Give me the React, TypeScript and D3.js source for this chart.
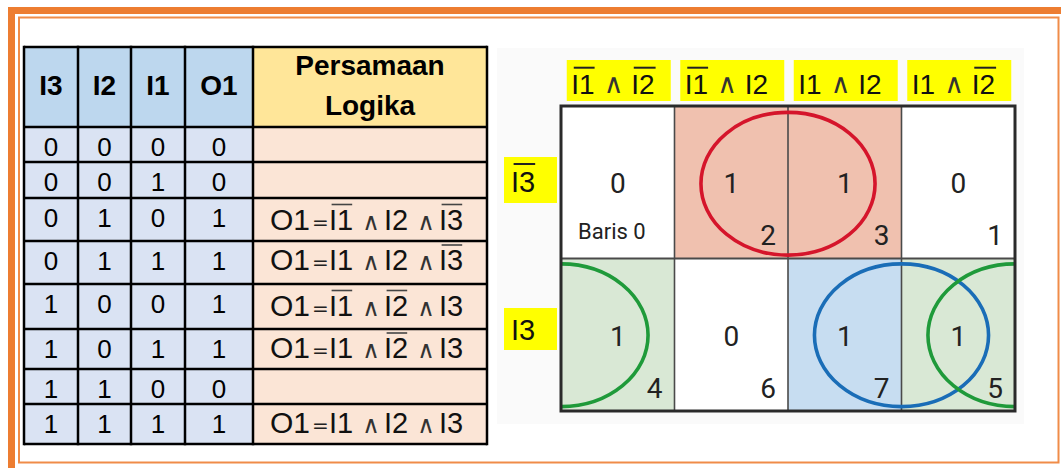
import React from 'react';
import * as d3 from 'd3';

// ---------- data ----------
const I3 = [0, 0, 0, 0, 1, 1, 1, 1];
const I2 = [0, 0, 1, 1, 0, 0, 1, 1];
const I1 = [0, 1, 0, 1, 0, 1, 0, 1];
const O1 = [0, 0, 1, 1, 1, 1, 0, 1];
const tableHeaders = ['I3', 'I2', 'I1', 'O1'];
const eqHeader = ['Persamaan', 'Logika'];
const outName = 'O1';
// K-map columns as [I1, I2] values, rows as I3 values
const kmapCols: [number, number][] = [[0, 0], [0, 1], [1, 1], [1, 0]];
const kmapRows = [0, 1];
const rowNote = 'Baris 0';
// groups (row, columns spanned)
const groups = [
  { row: 0, cols: [1, 2], stroke: '#D5152B', fill: '#F0C1AF' },
  { row: 1, cols: [2, 3], stroke: '#1A6DB7', fill: '#C7DDF1' },
  { row: 1, cols: [3, 0], stroke: '#1F9A3A', fill: '#D9E8D5' },
];

// ---------- layout ----------
const W = 1061, H = 468;
const ORANGE = '#ED7D31';
const TF = "'Liberation Sans', Arial, sans-serif";
const KF = "Roboto, 'Liberation Sans', sans-serif";
const SYM = "'DejaVu Sans', sans-serif";
const colEdges = [24, 78, 131, 185, 253, 487];
const rowEdges = [47, 127, 162, 198, 241, 284, 329, 369, 404, 444];
const CW: Record<string, number> = { I: 0.278, '1': 0.556, '2': 0.556, '3': 0.556, O: 0.778 };
const adv = (s: string, fs: number) => s.split('').reduce((a, c) => a + (CW[c] || 0.556), 0) * fs;

const xK = d3.scaleBand<number>().domain([0, 1, 2, 3]).range([561, 1015]);
const yK = d3.scaleBand<number>().domain([0, 1]).range([106, 411]);

function VarText({ x, y, name, neg, fs, olY, olW, color = '#111', olColor = '#444', olStroke = 1.6 }: any) {
  const w = adv(name, fs);
  return (
    <g>
      <text x={x} y={y} fontFamily={TF} fontSize={fs} fill={color}>{name}</text>
      {neg ? (
        <line x1={x + fs * 0.09} x2={x + w + (olW || 0)} y1={olY} y2={olY} stroke={olColor} strokeWidth={olStroke} />
      ) : null}
    </g>
  );
}

export default function App() {
  React.useEffect(() => {
    document.body.style.margin = '0';
  }, []);

  const colCenters = colEdges.slice(0, -1).map((e, i) => (e + colEdges[i + 1]) / 2);
  const dataCols = [I3, I2, I1, O1];

  const fillMap: Record<string, string> = {};
  groups.forEach((g) => g.cols.forEach((c) => (fillMap[`${g.row}-${c}`] = g.fill)));

  const bw = xK.bandwidth(), bh = yK.bandwidth();
  const rx = bw * 0.767, ry = bh * 0.468;
  const gx0 = xK.range()[0], gx1 = xK.range()[1];
  const gy0 = yK.range()[0], gy1 = yK.range()[1];

  const ellipses: any[] = [];
  groups.forEach((g, gi) => {
    const cy = (yK(g.row) as number) + bh / 2 + (g.row === 0 ? 1.5 : 0.5);
    const [a, b] = g.cols;
    if (b === a + 1) {
      ellipses.push({ key: gi, cx: (xK(b) as number), cy, stroke: g.stroke });
    } else {
      ellipses.push({ key: gi + 'a', cx: gx0, cy, stroke: g.stroke });
      ellipses.push({ key: gi + 'b', cx: gx1, cy, stroke: g.stroke });
    }
  });

  return (
    <svg width={W} height={H} style={{ position: 'absolute', left: 0, top: 0 }}>
      <rect x={0} y={0} width={W} height={H} fill="#fff" />
      {/* frame */}
      <rect x={8} y={7} width={W - 8} height={7} fill={ORANGE} />
      <rect x={8} y={7} width={7} height={H - 7} fill={ORANGE} />
      <rect x={19} y={17.5} width={1039.5} height={445} fill="none" stroke="#F08C48" strokeWidth={2} />

      {/* ---------- truth table ---------- */}
      {tableHeaders.map((h, i) => (
        <rect key={'hb' + i} x={colEdges[i]} y={rowEdges[0]} width={colEdges[i + 1] - colEdges[i]} height={rowEdges[1] - rowEdges[0]} fill="#BDD7EE" />
      ))}
      <rect x={colEdges[4]} y={rowEdges[0]} width={colEdges[5] - colEdges[4]} height={rowEdges[1] - rowEdges[0]} fill="#FFE699" />
      {O1.map((_, r) => (
        <g key={'rb' + r}>
          <rect x={colEdges[0]} y={rowEdges[r + 1]} width={colEdges[4] - colEdges[0]} height={rowEdges[r + 2] - rowEdges[r + 1]} fill="#DAE3F3" />
          <rect x={colEdges[4]} y={rowEdges[r + 1]} width={colEdges[5] - colEdges[4]} height={rowEdges[r + 2] - rowEdges[r + 1]} fill="#FBE5D6" />
        </g>
      ))}
      {tableHeaders.map((h, i) => (
        <text key={'ht' + i} x={colCenters[i]} y={95} textAnchor="middle" fontFamily={TF} fontWeight="bold" fontSize={28} fill="#000">{h}</text>
      ))}
      <text x={colCenters[4]} y={75} textAnchor="middle" fontFamily={TF} fontWeight="bold" fontSize={28} fill="#000">{eqHeader[0]}</text>
      <text x={colCenters[4]} y={115} textAnchor="middle" fontFamily={TF} fontWeight="bold" fontSize={28} fill="#000">{eqHeader[1]}</text>

      {O1.map((_, r) => {
        const top = rowEdges[r + 1];
        const base = top + 28.5;
        return (
          <g key={'rt' + r}>
            {dataCols.map((col, c) => (
              <text key={c} x={colCenters[c]} y={base} textAnchor="middle" fontFamily={TF} fontSize={26} fill="#000">{col[r]}</text>
            ))}
          </g>
        );
      })}

      {O1.map((v, r) => {
        if (!v) return null;
        const top = rowEdges[r + 1];
        const vars = [
          { name: 'I1', neg: I1[r] === 0 },
          { name: 'I2', neg: I2[r] === 0 },
          { name: 'I3', neg: I3[r] === 0 },
        ];
        const fs = 29;
        const base = top + 29 + (vars[0].neg ? 2.5 : 0);
        const x0 = colEdges[4];
        const varX = [76, 131, 186];
        const andX = [118, 173];
        return (
          <g key={'eq' + r}>
            <text x={x0 + 17} y={base} fontFamily={TF} fontSize={fs} fill="#111" textLength={40} lengthAdjust="spacingAndGlyphs">{outName}</text>
            <text x={x0 + 67.5} y={base - 1} textAnchor="middle" fontFamily={SYM} fontSize={20} fill="#222">=</text>
            {vars.map((vv, i) => (
              <VarText key={i} x={x0 + varX[i]} y={base} name={vv.name} neg={vv.neg} fs={fs} olY={base - 25} olW={-1} />
            ))}
            {andX.map((ax, i) => (
              <text key={'a' + i} x={x0 + ax} y={base} textAnchor="middle" fontFamily={SYM} fontSize={24} fill="#333">∧</text>
            ))}
          </g>
        );
      })}

      {colEdges.map((x, i) => (
        <line key={'vl' + i} x1={x} x2={x} y1={rowEdges[0] - 1.25} y2={rowEdges[rowEdges.length - 1] + 1.25} stroke="#000" strokeWidth={2.5} />
      ))}
      {rowEdges.map((y, i) => (
        <line key={'hl' + i} x1={colEdges[0]} x2={colEdges[5]} y1={y} y2={y} stroke="#000" strokeWidth={2.5} />
      ))}

      {/* ---------- K-map ---------- */}
      <rect x={497} y={48} width={527} height={376} fill="#FAFAFA" />
      <defs>
        <clipPath id="kclip">
          <rect x={gx0} y={gy0} width={gx1 - gx0} height={gy1 - gy0} />
        </clipPath>
      </defs>

      {kmapCols.map(([a, b], c) => {
        const bx = (xK(c) as number) + bw / 2 - 51;
        const fs = 28;
        return (
          <g key={'kl' + c}>
            <rect x={bx} y={60} width={104} height={41} fill="#FFFF00" />
            <VarText x={bx + 4.5} y={94} name="I1" neg={a === 0} fs={fs} olY={67.7} olW={0} olColor="#222" olStroke={2} color="#111" />
            <text x={bx + 47} y={93} textAnchor="middle" fontFamily={SYM} fontSize={27} fill="#333">∧</text>
            <VarText x={bx + 64.5} y={94} name="I2" neg={b === 0} fs={fs} olY={67.7} olW={1} olColor="#222" olStroke={2} color="#111" />
          </g>
        );
      })}

      {kmapRows.map((v, r) => {
        const boxY = r === 0 ? 157 : 308;
        const boxH = r === 0 ? 46 : 42;
        const base = r === 0 ? 192 : 340;
        return (
          <g key={'rl' + r}>
            <rect x={504} y={boxY} width={53} height={boxH} fill="#FFFF00" />
            <VarText x={511} y={base} name="I3" neg={v === 0} fs={29} olY={164} olW={0} olColor="#222" olStroke={2} color="#111" />
          </g>
        );
      })}

      {kmapRows.map((i3, r) =>
        kmapCols.map((_, c) => (
          <rect key={`c${r}-${c}`} x={xK(c)} y={yK(r)} width={bw} height={bh} fill={fillMap[`${r}-${c}`] || '#fff'} />
        ))
      )}
      {[1, 2, 3].map((c) => (
        <line key={'kv' + c} x1={xK(c)} x2={xK(c)} y1={gy0} y2={gy1} stroke="#4a4a4a" strokeWidth={1.6} />
      ))}
      <line x1={gx0} x2={gx1} y1={yK(1)} y2={yK(1)} stroke="#4a4a4a" strokeWidth={1.8} />

      <g clipPath="url(#kclip)">
        {ellipses.map((e) => (
          <ellipse key={e.key} cx={e.cx} cy={e.cy} rx={rx} ry={ry} fill="none" stroke={e.stroke} strokeWidth={3.6} />
        ))}
      </g>
      <rect x={gx0} y={gy0} width={gx1 - gx0} height={gy1 - gy0} fill="none" stroke="#2a2a2a" strokeWidth={3} />

      {kmapRows.map((i3, r) =>
        kmapCols.map(([a, b], c) => {
          const idx = i3 * 4 + b * 2 + a;
          const cx = (xK(c) as number) + bw / 2;
          const cy = (yK(r) as number) + bh / 2;
          const bottom = (yK(r) as number) + bh;
          const right = (xK(c) as number) + bw;
          return (
            <g key={`t${r}-${c}`}>
              <text x={cx} y={cy + 11} textAnchor="middle" fontFamily={KF} fontSize={28} fill="#222">{O1[idx]}</text>
              {idx === 0 ? (
                <text x={(xK(c) as number) + 17} y={bottom - 20} fontFamily={KF} fontSize={22} fill="#222">{rowNote}</text>
              ) : (
                <text x={right - 12} y={bottom - 13.5} textAnchor="end" fontFamily={KF} fontSize={28} fill="#222">{idx}</text>
              )}
            </g>
          );
        })
      )}
    </svg>
  );
}
